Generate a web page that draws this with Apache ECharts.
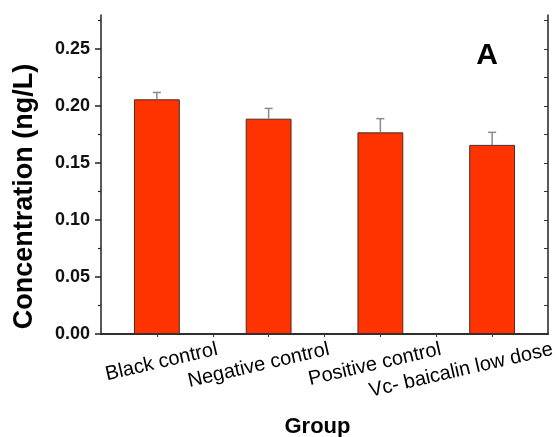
<!DOCTYPE html>
<html>
<head>
<meta charset="utf-8">
<script src="https://cdn.jsdelivr.net/npm/echarts@6/dist/echarts.min.js"></script>
<style>
  html, body { margin: 0; padding: 0; background: #fff; }
  #chart { width: 559px; height: 437px; }
</style>
</head>
<body>
<div id="chart"></div>
<script>
// Group names and measured concentrations (mean, one-sided SD)
const groups = ['Black control', 'Negative control', 'Positive control', 'Vc- baicalin low dose'];
const meanValues = [0.206, 0.189, 0.177, 0.166];
const sdValues = [0.006, 0.009, 0.012, 0.011];

// Axis ticks
const yMajorTicks = [0, 0.05, 0.10, 0.15, 0.20, 0.25];
const yMinorTicks = [0.025, 0.075, 0.125, 0.175, 0.225, 0.275];
const yAllTicks = [0, 0.025, 0.05, 0.075, 0.10, 0.125, 0.15, 0.175, 0.20, 0.225, 0.25, 0.275];
const topTicks = [0.5, 1, 1.5, 2, 2.5, 3, 3.5];

const yMin = 0, yMax = 0.28;
const frame = { lineStyle: { color: '#222', width: 1.5 } };
const font = 'Liberation Sans, Arial, Helvetica, sans-serif';

const chart = echarts.init(document.getElementById('chart'), null, { renderer: 'canvas' });

chart.setOption({
  animation: false,
  backgroundColor: '#fff',
  grid: { left: 101, top: 15, right: 11, bottom: 103, containLabel: false, outerBoundsMode: 'none' },
  xAxis: [
    {
      type: 'category',
      data: groups,
      position: 'bottom',
      axisLine: frame,
      axisTick: { show: false },
      axisLabel: {
        rotate: 13,
        align: 'left',
        verticalAlign: 'middle',
        margin: 29,
        interval: 0,
        hideOverlap: false,
        formatter: v => '{t|' + v + '}',
        rich: { t: { width: 62, align: 'right', fontFamily: font, fontSize: 20, color: '#000' } }
      },
      name: 'Group',
      nameLocation: 'middle',
      nameGap: 82,
      nameTextStyle: { fontFamily: font, fontSize: 22, fontWeight: 'bold', color: '#000', padding: [0, 14, 0, 0] }
    },
    {
      type: 'value',
      position: 'top',
      min: 0, max: 4,
      axisLine: frame,
      axisTick: { show: true, inside: true, length: 3, customValues: topTicks, lineStyle: { color: '#333', width: 1 } },
      axisLabel: { show: false },
      splitLine: { show: false }
    }
  ],
  yAxis: [
    {
      type: 'value',
      position: 'left',
      min: yMin, max: yMax,
      axisLine: { show: true, lineStyle: { color: '#222', width: 1.5 } },
      axisTick: { show: true, length: 6, customValues: yMajorTicks, lineStyle: { color: '#222', width: 1.5 } },
      axisLabel: {
        customValues: yMajorTicks,
        margin: 11,
        formatter: v => v.toFixed(2),
        fontFamily: font, fontSize: 18, fontWeight: 'bold', color: '#111'
      },
      splitLine: { show: false },
      name: 'Concentration (ng/L)',
      nameLocation: 'middle',
      nameGap: 63,
      nameTextStyle: { fontFamily: font, fontSize: 27, fontWeight: 'bold', color: '#000', padding: [0, 44, 0, 0] }
    },
    {
      type: 'value',
      position: 'left',
      min: yMin, max: yMax,
      axisLine: { show: false },
      axisTick: { show: true, length: 3, customValues: yMinorTicks, lineStyle: { color: '#222', width: 1.2 } },
      axisLabel: { show: false },
      splitLine: { show: false }
    },
    {
      type: 'value',
      position: 'right',
      min: yMin, max: yMax,
      axisLine: frame,
      axisTick: { show: true, inside: true, length: 4, customValues: yAllTicks, lineStyle: { color: '#333', width: 1 } },
      axisLabel: { show: false },
      splitLine: { show: false }
    }
  ],
  series: [
    {
      type: 'bar',
      xAxisIndex: 0,
      yAxisIndex: 0,
      data: meanValues,
      barWidth: '41%',
      itemStyle: { color: '#ff3300', borderColor: '#4a2a20', borderWidth: 1 },
      z: 2
    },
    {
      // upper error bars with caps
      type: 'custom',
      xAxisIndex: 0,
      yAxisIndex: 0,
      data: meanValues.map((m, i) => [i, m, sdValues[i]]),
      renderItem: (params, api) => {
        const i = api.value(0);
        const m = api.value(1);
        const sd = api.value(2);
        const base = api.coord([i, m]);
        const top = api.coord([i, m + sd]);
        const cap = 4;
        const style = { stroke: '#8a8a8a', lineWidth: 1.5 };
        return {
          type: 'group',
          children: [
            { type: 'line', shape: { x1: base[0], y1: base[1], x2: top[0], y2: top[1] }, style },
            { type: 'line', shape: { x1: top[0] - cap, y1: top[1], x2: top[0] + cap, y2: top[1] }, style }
          ]
        };
      },
      z: 3
    }
  ],
  graphic: [
    {
      type: 'text',
      x: 487, y: 56,
      style: {
        text: 'A',
        font: 'bold 30px ' + font,
        fill: '#000',
        textAlign: 'center',
        textVerticalAlign: 'middle'
      }
    }
  ]
});
</script>
</body>
</html>
